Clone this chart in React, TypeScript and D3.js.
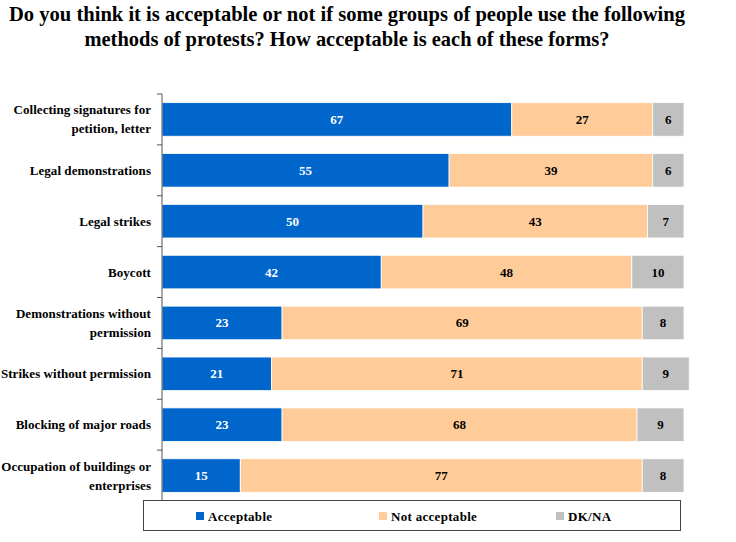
import React from "react";
import * as d3 from "d3";

const categories = [
  ["Collecting signatures for", "petition, letter"],
  ["Legal demonstrations"],
  ["Legal strikes"],
  ["Boycott"],
  ["Demonstrations without", "permission"],
  ["Strikes without permission"],
  ["Blocking of major roads"],
  ["Occupation of buildings or", "enterprises"],
];
const acceptable = [67, 55, 50, 42, 23, 21, 23, 15];
const notAcceptable = [27, 39, 43, 48, 69, 71, 68, 77];
const dkna = [6, 6, 7, 10, 8, 9, 9, 8];
const seriesNames = ["Acceptable", "Not acceptable", "DK/NA"];
const colors = ["#0066CC", "#FFCC99", "#C0C0C0"];
const textColors = ["#ffffff", "#000000", "#000000"];
const titleLines = [
  "Do you think it is acceptable or not if some groups of people use the following",
  "methods of protests? How acceptable is each of these forms?",
];

const W = 736;
const H = 542;
const FONT = "'Liberation Serif', 'Times New Roman', serif";

export default function App() {
  const x = d3.scaleLinear().domain([0, 100]).range([162, 684]);
  const idx = categories.map((_, i) => i);
  const y = d3.scaleBand<number>().domain(idx).range([94, 501]).paddingInner(0.34).paddingOuter(0.17);
  const band = d3.scaleBand<number>().domain(idx).range([94, 501]);
  const rows = idx.map((i) => [acceptable[i], notAcceptable[i], dkna[i]]);
  const legendX = [196, 379, 556];

  return (
    <svg width={W} height={H} style={{ position: "absolute", left: 0, top: 0, background: "#fff" }}>
      {titleLines.map((t, i) => (
        <text
          key={i}
          x={347}
          y={21 + i * 24.5}
          textAnchor="middle"
          fontFamily={FONT}
          fontWeight="bold"
          fontSize={22}
          textLength={i === 0 ? 676 : 525}
          lengthAdjust="spacingAndGlyphs"
          fill="#000"
        >
          {t}
        </text>
      ))}
      {rows.map((vals, i) => {
        const cum = d3.cumsum(vals);
        return (
          <g key={i}>
            {vals.map((v, j) => {
              const x0 = x(cum[j] - v);
              const x1 = x(cum[j]);
              return (
                <g key={j}>
                  <rect
                    x={x0}
                    y={y(i)!}
                    width={x1 - x0}
                    height={y.bandwidth()}
                    fill={colors[j]}
                    stroke="#ffffff"
                    strokeWidth={0.8}
                  />
                  <text
                    x={(x0 + x1) / 2}
                    y={y(i)! + y.bandwidth() / 2 + 4.5}
                    textAnchor="middle"
                    fontFamily={FONT}
                    fontWeight="bold"
                    fontSize={13}
                    fill={textColors[j]}
                  >
                    {v}
                  </text>
                </g>
              );
            })}
          </g>
        );
      })}
      <line x1={162} x2={162} y1={94} y2={501} stroke="#555" strokeWidth={1} />
      {d3.range(categories.length + 1).map((k) => {
        const yy = 94 + k * band.bandwidth();
        return <line key={k} x1={157} x2={162} y1={yy} y2={yy} stroke="#555" strokeWidth={1} />;
      })}
      {categories.map((lines, i) => {
        const cy = band(i)! + band.bandwidth() / 2;
        const n = lines.length;
        return (
          <text
            key={i}
            textAnchor="end"
            fontFamily={FONT}
            fontWeight="bold"
            fontSize={13}
            letterSpacing={0.05}
            fill="#000"
          >
            {lines.map((l, k) => (
              <tspan key={k} x={151} y={cy + 4.5 + (k - (n - 1) / 2) * 19}>
                {l}
              </tspan>
            ))}
          </text>
        );
      })}
      <rect x={143.5} y={500.5} width={537} height={30} fill="#fff" stroke="#444" strokeWidth={1} />
      {seriesNames.map((s, j) => (
        <g key={j}>
          <rect x={legendX[j]} y={512} width={8} height={8} fill={colors[j]} />
          <text
            x={legendX[j] + 12}
            y={520.5}
            fontFamily={FONT}
            fontWeight="bold"
            fontSize={13}
            letterSpacing={0.3}
            fill="#000"
          >
            {s}
          </text>
        </g>
      ))}
    </svg>
  );
}
